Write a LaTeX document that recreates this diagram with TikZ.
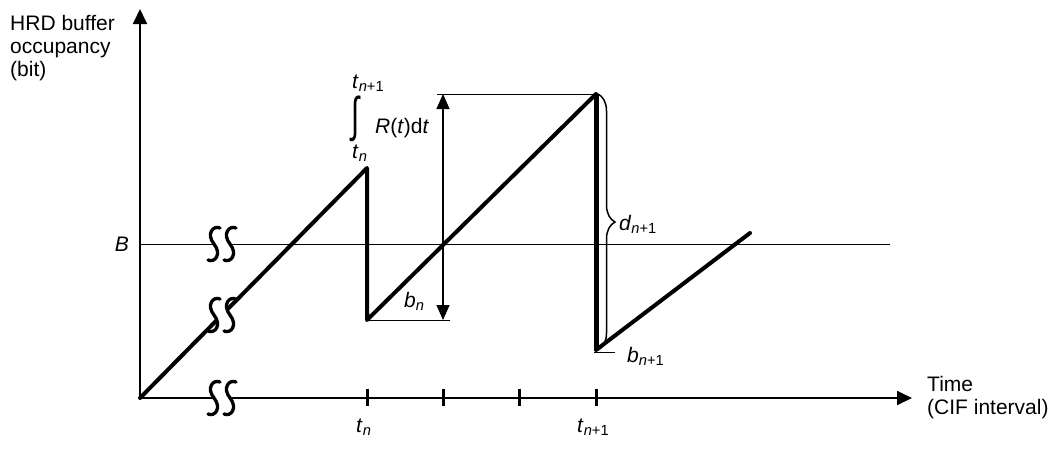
\documentclass[tikz,border=0pt]{standalone}
\usepackage{fontspec}
\setmainfont{Liberation Sans}
\usetikzlibrary{positioning,arrows.meta,decorations.pathreplacing}

\begin{document}
\begin{tikzpicture}[x=1pt, y=-1pt,
    axis/.style={line width=1.8pt, -{Triangle[length=15pt,width=14pt]}},
    saw/.style={line width=4pt, line join=round, line cap=round},
    hair/.style={line width=0.9pt},
    dimline/.style={line width=1.2pt, {Triangle[length=15pt,width=13pt]}-{Triangle[length=15pt,width=13pt]}},
    tickmark/.style={line width=3pt},
    lbl/.style={font=\fontsize{21}{23}\selectfont, inner sep=0pt},
    brk/.pic={
        \fill[white] (-2,-16) .. controls (-9,-19) and (-16,-10) .. (-8,0) .. controls (0,10) and (-7,19) .. (-14,16)
            -- (2,16) .. controls (9,19) and (16,10) .. (8,0) .. controls (0,-10) and (7,-19) .. (14,-16) -- cycle;
        \foreach \dx in {-8,8}
            \draw[line width=3.3pt, line cap=round] (\dx+6,-16) .. controls (\dx-1,-19) and (\dx-8,-10) .. (\dx,0)
                .. controls (\dx+8,10) and (\dx+1,19) .. (\dx-6,16);
    }
]
\useasboundingbox (0,0) rectangle (1056,448);

\coordinate (O) at (140,398);
\coordinate (ytop) at (140,9);
\coordinate (xend) at (912,398);
\coordinate (Bl) at (140,244);
\coordinate (Br) at (890,244);
\coordinate (P1) at (367,168);
\coordinate (V1) at (367,320);
\coordinate (P2) at (596,94);
\coordinate (V2) at (596,350);
\coordinate (E) at (750,233);
\coordinate (dtop) at (443,94);
\coordinate (dbot) at (443,320);
\coordinate (toplft) at (437,94);
\coordinate (botrgt) at (450,320);
\coordinate (b2l) at (594,352);
\coordinate (b2r) at (615,352);

% axes and level B
\draw[hair] (Bl) -- (Br);
\draw[axis] (O) -- (ytop);
\draw[axis] (O) -- (xend);
\foreach \tx in {367,443,519,596}
    \draw[tickmark] (\tx,389) -- (\tx,406);

% buffer occupancy
\draw[saw] (O) -- (P1) -- (V1) -- (P2);
\draw[line width=5pt] (P2) -- (V2);
\draw[saw] (V2) -- (E);

\draw[hair] (toplft) -- (P2);
\draw[hair] (V1) -- (botrgt);
\draw[hair] (b2l) -- (b2r);
\draw[dimline] (dbot) -- (dtop);
\draw[line width=1.5pt, decorate, decoration={brace, amplitude=17pt}] ([xshift=2pt]P2) -- ([xshift=2pt]V2);

\pic at (222,244) {brk};
\pic at (222,315) {brk};
\pic at (222,398) {brk};

% labels
\node[lbl, anchor=north west, align=left] (ylab) at (10,15) {HRD buffer\\occupancy\\(bit)};
\node[lbl, anchor=north west, align=left] (xlab) at (927,376) {Time\\(CIF interval)};
\node[lbl] (Blab) at (122,244) {\textit{B}};
\node[lbl, anchor=base west] (up) at (352,88) {\textit{t}\textsubscript{\textit{n}+1}};
\node[lbl] (intg) at (356,119) {\scalebox{1.4}[2.3]{∫}};
\node[lbl, anchor=base west] (rate) at (375,133) {\textit{R}(\textit{t})d\textit{t}};
\node[lbl, anchor=base west] (lo) at (352,158) {\textit{t}\textsubscript{\textit{n}}};
\node[lbl, anchor=base west] (bn) at (404,307) {\textit{b}\textsubscript{\textit{n}}};
\node[lbl, anchor=base west] (dn) at (619,230) {\textit{d}\textsubscript{\textit{n}+1}};
\node[lbl, anchor=base west] (bn1) at (627,362) {\textit{b}\textsubscript{\textit{n}+1}};
\node[lbl, anchor=base west] (tn) at (356,432) {\textit{t}\textsubscript{\textit{n}}};
\node[lbl, anchor=base west] (tn1) at (577,432) {\textit{t}\textsubscript{\textit{n}+1}};
\end{tikzpicture}
\end{document}
